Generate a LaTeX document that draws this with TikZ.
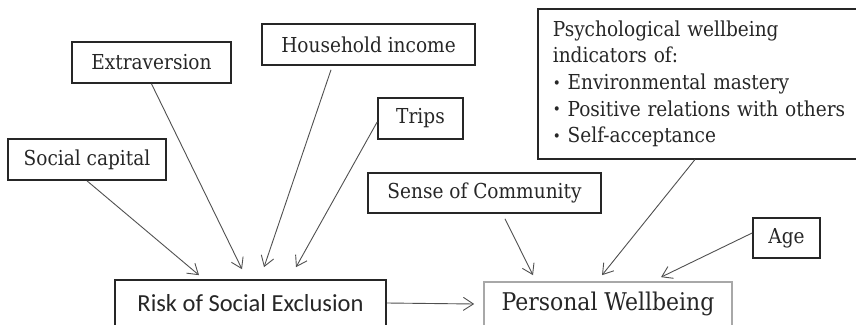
\documentclass[tikz,border=0pt]{standalone}
\usepackage{fontspec}
\setmainfont{DejaVu Serif Condensed}
\newfontfamily\calibri{Carlito}
\usetikzlibrary{arrows.meta}
\definecolor{inkgray}{HTML}{262626}
\definecolor{linegray}{HTML}{505050}
\definecolor{palegray}{HTML}{A8A8A8}
\newcommand{\pwbullet}{\raisebox{1.5pt}{\fontsize{15}{15}\selectfont\textbullet}\ }

\begin{document}
\begin{tikzpicture}[x=1pt,y=-1pt]
        \tikzset{box/.style = {shape=rectangle,draw=inkgray,line width=1.7pt,text=inkgray,
                               inner sep=0pt,font=\fontsize{20.6}{26.7}\selectfont}}
        \tikzset{edge/.style = {draw=linegray,line width=0.9pt,-{Straight Barb[length=10pt,width=13pt]}}}
        \useasboundingbox (0,0) rectangle (856,324);
        % boxes
        \node[box,minimum width=158pt,minimum height=41pt] (socap) at (87,159.5) {Social capital};
        \node[box,minimum width=159pt,minimum height=41pt] (extra) at (151.5,62.5) {Extraversion};
        \node[box,minimum width=213pt,minimum height=41pt] (house) at (368.5,44.5) {Household income};
        \node[box,minimum width=85pt,minimum height=41pt] (trips) at (420.5,118.5) {Trips};
        \node[box,minimum width=233pt,minimum height=40pt] (sense) at (484.5,193) {Sense of Community};
        \node[box,minimum width=67pt,minimum height=40pt] (age) at (786.5,238) {Age};
        \node[box,anchor=north west,minimum height=150pt,inner xsep=15pt,text width=300pt,align=left] (psych) at (537,8)
            {Psychological wellbeing\\indicators of:\\\pwbullet Environmental mastery\\\pwbullet Positive relations with others\\\pwbullet Self-acceptance};
        \node[box,minimum width=271pt,minimum height=46pt,font=\calibri\fontsize{24.5}{30}\selectfont] (risk) at (250.5,303) {Risk of Social Exclusion};
        \node[box,draw=palegray,minimum width=248pt,minimum height=44pt,font=\fontsize{24.4}{30}\selectfont] (pw) at (608,304) {Personal Wellbeing};
        % arrows
        \draw[edge] (socap.south) -- ([xshift=-51.5pt,yshift=4pt]risk.north);
        \draw[edge] (extra.south) -- ([xshift=-8.5pt,yshift=10pt]risk.north);
        \draw[edge] ([xshift=-37.5pt,yshift=-4pt]house.south) -- ([xshift=13.5pt,yshift=12pt]risk.north);
        \draw[edge] ([yshift=-3.5pt]trips.west) -- ([xshift=45.5pt,yshift=12pt]risk.north);
        \draw[edge] (risk.east) -- ([xshift=-9pt]pw.west);
        \draw[edge] ([xshift=20.5pt,yshift=-5pt]sense.south) -- ([xshift=-75pt,yshift=6pt]pw.north);
        \draw[edge] ([xshift=-8pt]psych.south) -- ([xshift=-6pt,yshift=6pt]pw.north);
        \draw[edge] ([yshift=5pt]age.west) -- ([xshift=53pt,yshift=4pt]pw.north);

    \end{tikzpicture}
\end{document}
